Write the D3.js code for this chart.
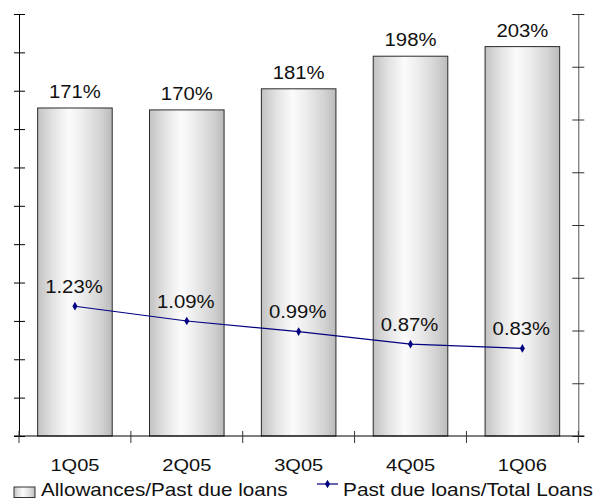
<!DOCTYPE html>
<html>
<head>
<meta charset="utf-8">
<script src="https://cdn.jsdelivr.net/npm/d3@7/dist/d3.min.js"></script>
<style>
  html, body { margin: 0; padding: 0; background: #fff; }
  svg { display: block; }
  text { font-family: "Liberation Sans", Arial, Helvetica, sans-serif; fill: #111; }
</style>
</head>
<body>
<svg id="chart" width="595" height="499"></svg>
<script>
// Quarterly coverage ratio and past-due ratio
const quarters = ["1Q05", "2Q05", "3Q05", "4Q05", "1Q06"];
const allowanceRatio = [171, 170, 181, 198, 203];      // Allowances / Past due loans (%)
const pastDueRatio = [1.23, 1.09, 0.99, 0.87, 0.83];   // Past due loans / Total loans (%)
const barLabels = ["171%", "170%", "181%", "198%", "203%"];
const lineLabels = ["1.23%", "1.09%", "0.99%", "0.87%", "0.83%"];
const leftTicks = [0, 20, 40, 60, 80, 100, 120, 140, 160, 180, 200, 220];
const rightTicks = [0, 0.5, 1, 1.5, 2, 2.5, 3, 3.5, 4];
const legendLabels = ["Allowances/Past due loans", "Past due loans/Total Loans"];

const svg = d3.select("#chart");
const plot = { left: 19, right: 578.3, top: 14, bottom: 436 };
const SX = 1.16; // horizontal stretch of the lettering

const x = d3.scaleBand().domain(quarters)
  .range([plot.left, plot.right]).paddingInner(1 / 3).paddingOuter(1 / 6);
const yL = d3.scaleLinear().domain([0, 220]).range([plot.bottom, plot.top]);
const yR = d3.scaleLinear().domain([0, 4]).range([plot.bottom, plot.top]);

// bar shading
const defs = svg.append("defs");
const grad = defs.append("linearGradient").attr("id", "barShade")
  .attr("x1", "0%").attr("x2", "100%").attr("y1", "0%").attr("y2", "0%");
[[0, "#c2c2c2"], [0.2, "#e2e2e2"], [0.42, "#fbfbfb"], [0.6, "#ededed"], [0.85, "#d2d2d2"], [1, "#bababa"]]
  .forEach(([o, c]) => grad.append("stop").attr("offset", o).attr("stop-color", c));

function label(g, tx, ty, txt, size, anchor, sx) {
  return g.append("text")
    .attr("transform", `translate(${tx},${ty}) scale(${sx || SX},1)`)
    .attr("text-anchor", anchor || "middle")
    .style("font-size", size + "px")
    .text(txt);
}

// bars
svg.append("g").selectAll("rect").data(quarters).join("rect")
  .attr("x", d => x(d))
  .attr("y", (d, i) => yL(allowanceRatio[i]))
  .attr("width", x.bandwidth())
  .attr("height", (d, i) => yL(0) - yL(allowanceRatio[i]))
  .attr("fill", "url(#barShade)")
  .attr("stroke", "#2a2a2a").attr("stroke-width", 1);

// left axis
const axL = svg.append("g").attr("transform", `translate(${plot.left},0)`)
  .call(d3.axisLeft(yL).tickValues(leftTicks).tickFormat("").tickSizeOuter(0));
axL.select(".domain").attr("stroke", "#000");
axL.selectAll(".tick line").attr("x1", -5).attr("x2", 6).attr("stroke", "#000");

// right axis
const axR = svg.append("g").attr("transform", `translate(${plot.right},0)`)
  .call(d3.axisRight(yR).tickValues(rightTicks).tickFormat("").tickSizeOuter(0));
axR.select(".domain").attr("stroke", "#555");
axR.selectAll(".tick line").attr("x1", -6).attr("x2", 6).attr("stroke", "#333");

// category axis
const step = x.step();
const bounds = d3.range(quarters.length + 1).map(i => plot.left + i * step);
const axB = svg.append("g");
axB.append("line").attr("x1", plot.left - 5).attr("x2", plot.right + 6)
  .attr("y1", plot.bottom).attr("y2", plot.bottom).attr("stroke", "#000").attr("stroke-width", 1.2);
axB.selectAll("line.t").data(bounds).join("line").attr("class", "t")
  .attr("x1", d => d).attr("x2", d => d)
  .attr("y1", plot.bottom - 5).attr("y2", plot.bottom + 7)
  .attr("stroke", "#333");
quarters.forEach(q => label(axB, x(q) + x.bandwidth() / 2, 471, q, 17, "middle", 1.18));

// bar value labels
const bl = svg.append("g");
quarters.forEach((q, i) => label(bl, x(q) + x.bandwidth() / 2, yL(allowanceRatio[i]) - 10, barLabels[i], 17.5));

// past-due line
const cx = q => x(q) + x.bandwidth() / 2;
svg.append("path")
  .datum(quarters)
  .attr("d", d3.line().x(q => cx(q)).y((q, i) => yR(pastDueRatio[i])))
  .attr("fill", "none").attr("stroke", "#000080").attr("stroke-width", 1.2);
const diamond = d3.symbol().type(d3.symbolDiamond).size(22);
svg.append("g").selectAll("path").data(quarters).join("path")
  .attr("d", diamond)
  .attr("transform", (q, i) => `translate(${cx(q)},${yR(pastDueRatio[i])})`)
  .attr("fill", "#000080");
const ll = svg.append("g");
quarters.forEach((q, i) => label(ll, cx(q) - 1, yR(pastDueRatio[i]) - 13.5, lineLabels[i], 17.5));

// legend
const lg = svg.append("g");
lg.append("rect").attr("x", 14).attr("y", 487).attr("width", 21).attr("height", 10.5)
  .attr("fill", "url(#barShade)").attr("stroke", "#333");
label(lg, 41, 496, legendLabels[0], 17.5, "start", 1.18);
lg.append("line").attr("x1", 317).attr("x2", 338).attr("y1", 484).attr("y2", 484)
  .attr("stroke", "#000080").attr("stroke-width", 1.2);
lg.append("path").attr("d", diamond).attr("transform", "translate(327.5,484)").attr("fill", "#000080");
label(lg, 343, 496, legendLabels[1], 17.5, "start", 1.19);
</script>
</body>
</html>
